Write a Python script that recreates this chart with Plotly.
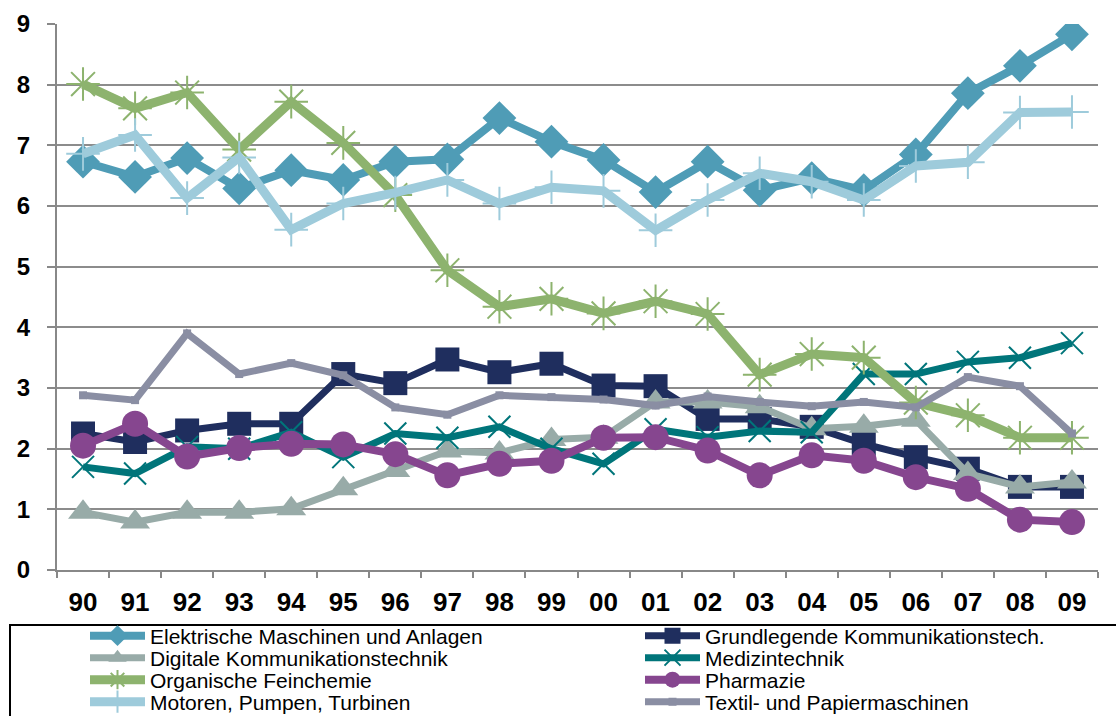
import plotly.graph_objects as go

years = ["90", "91", "92", "93", "94", "95", "96", "97", "98", "99",
         "00", "01", "02", "03", "04", "05", "06", "07", "08", "09"]

elektrische = [6.73, 6.48, 6.79, 6.29, 6.59, 6.43, 6.73, 6.77, 7.45, 7.06,
               6.76, 6.23, 6.73, 6.26, 6.46, 6.26, 6.85, 7.86, 8.31, 8.83]
grundlegende = [2.25, 2.11, 2.30, 2.41, 2.41, 3.23, 3.08, 3.47, 3.26, 3.40,
                3.04, 3.03, 2.49, 2.49, 2.36, 2.08, 1.86, 1.67, 1.37, 1.37]
digitale = [0.95, 0.79, 0.95, 0.95, 1.01, 1.34, 1.64, 1.96, 1.93, 2.15,
            2.19, 2.77, 2.77, 2.69, 2.33, 2.37, 2.47, 1.59, 1.37, 1.45]
medizin = [1.70, 1.59, 2.03, 2.00, 2.27, 1.86, 2.25, 2.18, 2.36, 2.00,
           1.75, 2.32, 2.19, 2.29, 2.27, 3.23, 3.23, 3.43, 3.50, 3.74]
organische = [8.01, 7.61, 7.87, 6.93, 7.72, 7.04, 6.18, 4.94, 4.34, 4.47,
              4.23, 4.43, 4.22, 3.22, 3.56, 3.50, 2.76, 2.55, 2.18, 2.18]
pharmazie = [2.05, 2.41, 1.87, 2.01, 2.08, 2.07, 1.91, 1.56, 1.75, 1.80,
             2.18, 2.19, 1.97, 1.56, 1.89, 1.80, 1.53, 1.34, 0.83, 0.79]
motoren = [6.86, 7.17, 6.13, 6.80, 5.61, 6.04, 6.22, 6.43, 6.04, 6.31,
           6.25, 5.60, 6.10, 6.54, 6.40, 6.10, 6.66, 6.72, 7.54, 7.55]
textil = [2.88, 2.80, 3.90, 3.23, 3.41, 3.21, 2.68, 2.56, 2.88, 2.85,
          2.81, 2.71, 2.86, 2.77, 2.70, 2.77, 2.68, 3.18, 3.03, 2.25]

y_ticks = [0, 1, 2, 3, 4, 5, 6, 7, 8, 9]

# name, values, colour, line width, marker symbol, marker size, marker line width
series = [
    ("Elektrische Maschinen und Anlagen", elektrische, "#4f9cb6", 8, "diamond", 26, 0),
    ("Grundlegende Kommunikationstech.", grundlegende, "#1f2e5e", 7, "square", 24, 0),
    ("Digitale Kommunikationstechnik", digitale, "#98aba8", 7, "triangle-up", 26, 0),
    ("Medizintechnik", medizin, "#00757a", 7, "x-thin-open", 22, 2),
    ("Organische Feinchemie", organische, "#8db36e", 9, "asterisk-open", 28, 2),
    ("Pharmazie", pharmazie, "#86468f", 8, "circle", 26, 0),
    ("Motoren, Pumpen, Turbinen", motoren, "#9ecbdb", 9, "cross-thin-open", 24, 2),
    ("Textil- und Papiermaschinen", textil, "#8a8ea3", 7, "square", 8, 0),
]

# plot area in pixels, used to place the legend entries
L, R, T, B = 57, 18, 24, 146
W, H = 1116, 716
pw, ph = W - L - R, H - T - B


def px_x(x):
    return (x - L) / pw


def px_y(y):
    return (H - B - y) / ph


fig = go.Figure()

# one legend per entry: two columns, four rows
row_y = [636, 658, 680, 702]
col_x = [85, 640]
legends = {}
for i, (name, vals, color, lw, symbol, msize, mlw) in enumerate(series):
    key = "legend" if i == 0 else "legend%d" % (i + 1)
    fig.add_trace(go.Scatter(
        x=years,
        y=vals,
        name=name,
        legend=key,
        showlegend=True,
        mode="lines+markers",
        line=dict(color=color, width=lw),
        marker=dict(symbol=symbol, size=msize, color=color,
                    line=dict(color=color, width=mlw)),
    ))
    legends[key] = dict(
        x=px_x(col_x[i % 2]),
        xanchor="left",
        y=px_y(row_y[i // 2]),
        yanchor="middle",
        itemwidth=55,
        bgcolor="rgba(0,0,0,0)",
        font=dict(size=21, color="black"),
    )

fig.update_layout(
    width=W,
    height=H,
    showlegend=True,
    plot_bgcolor="white",
    paper_bgcolor="white",
    margin=dict(l=L, r=R, t=T, b=B, autoexpand=False),
    font=dict(family="Arial, Liberation Sans", color="black"),
    xaxis=dict(
        type="category",
        range=[-0.5, 19.5],
        showline=True,
        linecolor="#888888",
        linewidth=2,
        ticks="outside",
        tickson="boundaries",
        ticklen=6,
        tickwidth=2,
        tickcolor="#888888",
        ticklabelstandoff=8,
        showgrid=False,
        tickfont=dict(size=26, weight="bold", color="black"),
    ),
    yaxis=dict(
        range=[0, 9],
        tickvals=y_ticks,
        showline=True,
        linecolor="#888888",
        linewidth=2,
        ticks="outside",
        ticklen=8,
        tickwidth=2,
        tickcolor="#888888",
        ticklabelstandoff=12,
        showgrid=True,
        gridcolor="#8c8c8c",
        gridwidth=2,
        zeroline=False,
        tickfont=dict(size=24, weight="bold", color="black"),
    ),
    shapes=[dict(
        type="rect", xref="paper", yref="paper",
        x0=px_x(10), x1=px_x(1130), y0=px_y(625), y1=px_y(740),
        line=dict(color="black", width=2),
    )],
    **legends,
)

# the page's default body margin would shift the chart by 8px
fig.write_html("out.html", config={"displayModeBar": False},
               post_script="document.body.style.margin='0';")
